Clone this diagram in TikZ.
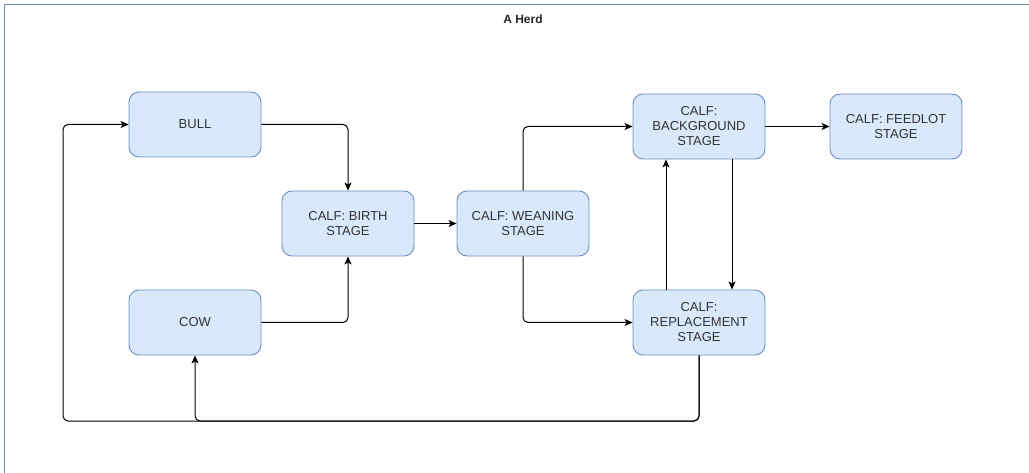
\documentclass[tikz,border=0pt]{standalone}
\usepackage{fontspec}
\setmainfont{Liberation Sans}
\usetikzlibrary{arrows.meta}

\definecolor{stagefill}{HTML}{DAE8FC}
\definecolor{stageline}{HTML}{6C8EBF}
\definecolor{stagetext}{HTML}{333333}

\tikzset{
  stage/.style={draw=stageline, fill=stagefill, rounded corners=10pt, line width=0.9pt,
    minimum width=132pt, minimum height=65pt, align=center, text=stagetext,
    font=\fontsize{13}{15}\selectfont, inner sep=2pt},
  link/.style={draw=black, line width=1pt, rounded corners=5pt,
    -{Stealth[length=8pt,width=7pt,inset=2pt]}}
}

\begin{document}
\begin{tikzpicture}[x=1pt,y=-1pt]
\useasboundingbox (0,0) rectangle (1029,473);

\draw[stageline, line width=1pt] (4.5,473) -- (4.5,4.5) -- (1029,4.5) ;
\node[font=\bfseries\fontsize{12}{14}\selectfont, text=black!85] (title) at (523,19) {A Herd} ;

\node[stage] (bull) at (195,124.5) {BULL} ;
\node[stage] (cow) at (195,322.5) {COW} ;
\node[stage] (birth) at (348,223.5) {CALF: BIRTH\\STAGE} ;
\node[stage] (weaning) at (523,223.5) {CALF: WEANING\\STAGE} ;
\node[stage] (background) at (699,126.5) {CALF:\\BACKGROUND\\STAGE} ;
\node[stage] (feedlot) at (896,126.5) {CALF: FEEDLOT\\STAGE} ;
\node[stage] (replacement) at (699,322.5) {CALF:\\REPLACEMENT\\STAGE} ;

\coordinate (loop) at (63,421) ;
\coordinate (cowturn) at (cow.south |- loop) ;

\draw[link] (bull.east) -| (birth.north) ;
\draw[link] (cow.east) -| (birth.south) ;
\draw[link] (birth) -- (weaning) ;
\draw[link] (weaning.north) |- (background.west) ;
\draw[link] (weaning.south) |- (replacement.west) ;
\draw[link] (background) -- (feedlot) ;
\draw[link] ([xshift=33pt]background.south) -- ([xshift=33pt]replacement.north) ;
\draw[link] ([xshift=-33pt]replacement.north) -- ([xshift=-33pt]background.south) ;
\draw[link] (replacement.south) |- (loop) |- (bull.west) ;
\draw[link] (replacement.south) |- (cowturn) -- (cow.south) ;

\end{tikzpicture}
\end{document}
